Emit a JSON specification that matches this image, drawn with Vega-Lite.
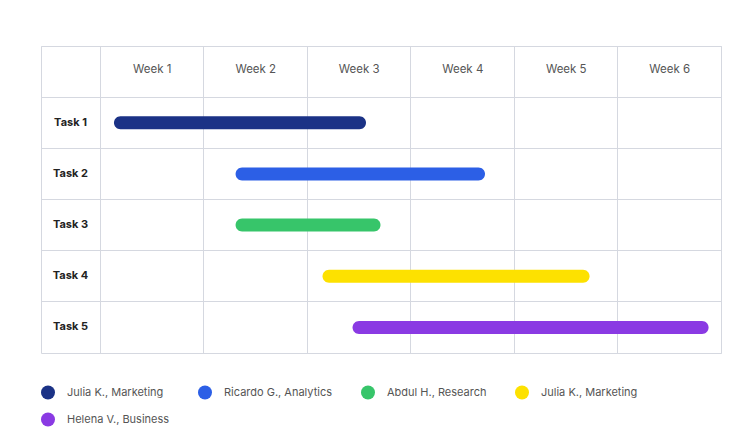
{
  "$schema": "https://vega.github.io/schema/vega-lite/v6.json",
  "width": 680,
  "height": 307,
  "autosize": "none",
  "padding": {"left": 41, "top": 46, "right": 33, "bottom": 94},
  "background": "white",
  "config": {
    "view": {"stroke": "#d5d8e0", "strokeWidth": 1},
    "font": "Inter"
  },
  "data": {
    "values": [
      {"task": "Task 1", "owner": "Julia K., Marketing", "start": 0.135, "end": 2.57},
      {"task": "Task 2", "owner": "Ricardo G., Analytics", "start": 1.31, "end": 3.72},
      {"task": "Task 3", "owner": "Abdul H., Research", "start": 1.31, "end": 2.71},
      {"task": "Task 4", "owner": "Julia K., Marketing", "start": 2.15, "end": 4.73},
      {"task": "Task 5", "owner": "Helena V., Business", "start": 2.44, "end": 5.88}
    ]
  },
  "mark": {"type": "bar", "cornerRadius": 6.5, "height": 13},
  "encoding": {
    "x": {
      "field": "start",
      "type": "quantitative",
      "scale": {"domain": [-0.57, 6], "nice": false, "zero": false},
      "axis": {
        "orient": "top",
        "values": [0, 1, 2, 3, 4, 5, 6],
        "grid": true,
        "gridColor": "#d5d8e0",
        "gridOpacity": 1,
        "ticks": false,
        "tickSize": 0,
        "domain": false,
        "title": null,
        "offset": -23,
        "labelPadding": 0,
        "labelOffset": 51.75,
        "labelBaseline": "middle",
        "labelAlign": "center",
        "labelFont": "Inter",
        "labelFontSize": 11.5,
        "labelColor": "#555555",
        "labelExpr": "datum.value < 6 ? 'Week ' + (datum.value + 1) : ''"
      }
    },
    "x2": {"field": "end"},
    "y": {
      "field": "task",
      "type": "nominal",
      "scale": {"domain": [" ", "Task 1", "Task 2", "Task 3", "Task 4", "Task 5"], "paddingInner": 0, "paddingOuter": 0},
      "axis": {
        "orient": "left",
        "bandPosition": 0,
        "grid": true,
        "gridColor": "#d5d8e0",
        "gridOpacity": 1,
        "ticks": false,
        "tickSize": 0,
        "domain": false,
        "title": null,
        "offset": -29,
        "labelPadding": 0,
        "labelOffset": 0,
        "labelAlign": "center",
        "labelBaseline": "middle",
        "labelFont": "Inter",
        "labelFontWeight": "bold",
        "labelFontSize": 11,
        "labelColor": "#222222"
      }
    },
    "color": {
      "field": "task",
      "type": "nominal",
      "scale": {
        "domain": ["Task 1", "Task 2", "Task 3", "Task 4", "Task 5"],
        "range": ["#1b3286", "#2c5fe6", "#37c56a", "#fde100", "#8a3ae3"]
      },
      "legend": {
        "orient": "none",
        "legendX": 0,
        "legendY": 339.5,
        "direction": "horizontal",
        "columns": 4,
        "title": null,
        "padding": 0,
        "symbolType": "circle",
        "symbolSize": 196,
        "symbolStrokeWidth": 0,
        "symbolOpacity": 1,
        "labelOffset": 12,
        "columnPadding": 28,
        "rowPadding": 13,
        "labelFont": "Inter",
        "labelFontSize": 11,
        "labelColor": "#555555",
        "labelExpr": "datum.label == 'Task 1' ? 'Julia K., Marketing' : datum.label == 'Task 2' ? 'Ricardo G., Analytics' : datum.label == 'Task 3' ? 'Abdul H., Research' : datum.label == 'Task 4' ? 'Julia K., Marketing' : 'Helena V., Business'"
      }
    }
  }
}
